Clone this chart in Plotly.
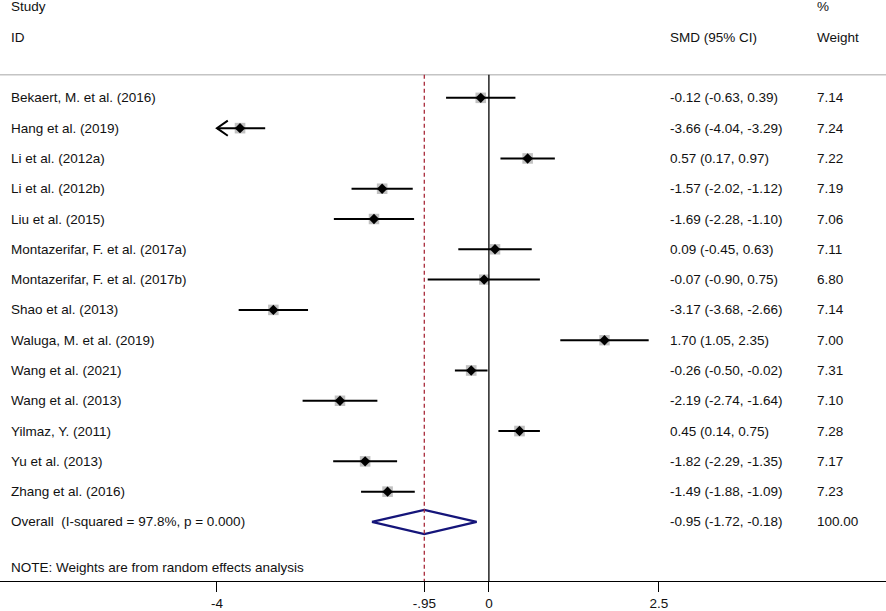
import plotly.graph_objects as go
import math

studies = ["Bekaert, M. et al. (2016)", "Hang et al. (2019)", "Li et al. (2012a)", "Li et al. (2012b)",
           "Liu et al. (2015)", "Montazerifar, F. et al. (2017a)", "Montazerifar, F. et al. (2017b)",
           "Shao et al. (2013)", "Waluga, M. et al. (2019)", "Wang et al. (2021)", "Wang et al. (2013)",
           "Yilmaz, Y. (2011)", "Yu et al. (2013)", "Zhang et al. (2016)"]
smd = [-0.12, -3.66, 0.57, -1.57, -1.69, 0.09, -0.07, -3.17, 1.70, -0.26, -2.19, 0.45, -1.82, -1.49]
lo = [-0.63, -4.04, 0.17, -2.02, -2.28, -0.45, -0.90, -3.68, 1.05, -0.50, -2.74, 0.14, -2.29, -1.88]
hi = [0.39, -3.29, 0.97, -1.12, -1.10, 0.63, 0.75, -2.66, 2.35, -0.02, -1.64, 0.75, -1.35, -1.09]
weights = [7.14, 7.24, 7.22, 7.19, 7.06, 7.11, 6.80, 7.14, 7.00, 7.31, 7.10, 7.28, 7.17, 7.23]
overall_label = "Overall&nbsp;&nbsp;(I-squared = 97.8%, p = 0.000)"
overall_smd, overall_lo, overall_hi, overall_w = -0.95, -1.72, -0.18, 100.00
note = "NOTE: Weights are from random effects analysis"
tick_vals = [-4, -0.95, 0, 2.5]
tick_text = ["-4", "-.95", "0", "2.5"]
x_clip = -4

n = len(studies)
ys = list(range(n))
y_overall = n
y_note = n + 1.5
y_sep = -0.76
y_bottom = 15.95
y_top = -3.23
x_range = [-7.19, 5.84]

fig = go.Figure()

# weight boxes (behind)
fig.add_trace(go.Scatter(x=smd, y=ys, mode="markers",
                         marker=dict(symbol="square", color="#a6a6a6",
                                     size=[10.5 * math.sqrt(w / 7.1) for w in weights], line=dict(width=0)),
                         hoverinfo="skip", showlegend=False))
# CI lines
lx, ly = [], []
for i in range(n):
    lx += [max(lo[i], x_clip), hi[i], None]
    ly += [ys[i], ys[i], None]
fig.add_trace(go.Scatter(x=lx, y=ly, mode="lines", line=dict(color="black", width=2),
                         hoverinfo="skip", showlegend=False))
# arrows for clipped
ax, ay = [], []
for i in range(n):
    if lo[i] < x_clip:
        ax += [x_clip + 0.16, x_clip, x_clip + 0.16, None]
        ay += [ys[i] - 0.25, ys[i], ys[i] + 0.25, None]
fig.add_trace(go.Scatter(x=ax, y=ay, mode="lines", line=dict(color="black", width=2),
                         hoverinfo="skip", showlegend=False))
fig.add_trace(go.Scatter(x=smd, y=ys, mode="markers",
                         marker=dict(symbol="diamond", color="black", size=8, line=dict(width=0)),
                         hoverinfo="skip", showlegend=False))
# overall diamond
fig.add_trace(go.Scatter(x=[overall_lo, overall_smd, overall_hi, overall_smd, overall_lo],
                         y=[y_overall, y_overall - 0.4, y_overall, y_overall + 0.4, y_overall],
                         mode="lines", line=dict(color="#15157a", width=2.3),
                         hoverinfo="skip", showlegend=False))

shapes = [
    dict(type="line", xref="paper", yref="y", x0=0, x1=1, y0=y_sep, y1=y_sep,
         line=dict(color="#c4c4c4", width=1.5)),
    dict(type="line", xref="x", yref="y", x0=0, x1=0, y0=y_sep, y1=y_bottom,
         line=dict(color="black", width=1.3)),
    dict(type="line", xref="x", yref="y", x0=overall_smd, x1=overall_smd, y0=y_sep, y1=y_bottom,
         line=dict(color="#a82a3a", width=1.3, dash="4px,3px")),
]

font = dict(family="Liberation Sans, Arial, sans-serif", size=13.5, color="#111111")
ann = []
def txt(x, y, s):
    ann.append(dict(x=x, y=y, xref="paper", yref="y", text=s, showarrow=False,
                    xanchor="left", yanchor="middle", font=font))

x_study, x_smd, x_w = 9 / 886, 668 / 886, 815 / 886
txt(x_study, -3.0, "Study")
txt(x_study, -2.0, "ID")
txt(x_smd, -2.0, "SMD (95% CI)")
txt(x_w, -3.0, "%")
txt(x_w, -2.0, "Weight")
for i in range(n):
    txt(x_study, ys[i], studies[i])
    txt(x_smd, ys[i], f"{smd[i]:.2f} ({lo[i]:.2f}, {hi[i]:.2f})")
    txt(x_w, ys[i], f"{weights[i]:.2f}")
txt(x_study, y_overall, overall_label)
txt(x_smd, y_overall, f"{overall_smd:.2f} ({overall_lo:.2f}, {overall_hi:.2f})")
txt(x_w, y_overall, f"{overall_w:.2f}")
txt(x_study, y_note, note)

fig.update_layout(
    width=886, height=611, margin=dict(l=0, r=0, t=0, b=30),
    plot_bgcolor="white", paper_bgcolor="white",
    shapes=shapes, annotations=ann, font=font,
    xaxis=dict(range=x_range, showgrid=False, zeroline=False, showline=True, linecolor="black",
               linewidth=1.3, ticks="outside", ticklen=10, tickcolor="black", tickwidth=1.3,
               tickvals=tick_vals, ticktext=tick_text, tickfont=font, fixedrange=True),
    yaxis=dict(range=[y_bottom, y_top], visible=False, fixedrange=True),
)
fig.write_html("out.html", config={"displayModeBar": False},
               post_script="document.body.style.margin='0px';")
